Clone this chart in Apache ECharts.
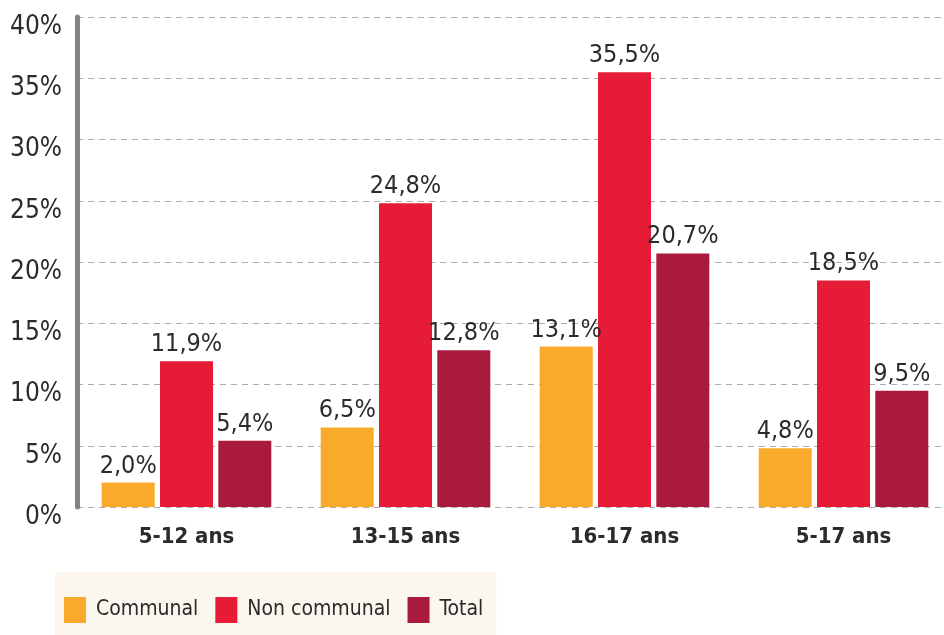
<!DOCTYPE html>
<html>
<head>
<meta charset="utf-8">
<script src="https://cdn.jsdelivr.net/npm/echarts@6/dist/echarts.min.js"></script>
<style>
  html, body { margin: 0; padding: 0; background: #fff; }
  #chart { width: 944px; height: 635px; }
</style>
</head>
<body>
<div id="chart"></div>
<script>
// données
const categories = ["5-12 ans", "13-15 ans", "16-17 ans", "5-17 ans"];
const communal = [2.0, 6.5, 13.1, 4.8];
const nonCommunal = [11.9, 24.8, 35.5, 18.5];
const total = [5.4, 12.8, 20.7, 9.5];
const seriesNames = ["Communal", "Non communal", "Total"];
const colors = ["#F9AA2A", "#E61C36", "#AA1A3C"];

const FONT = "'DejaVu Sans Condensed', 'DejaVu Sans', sans-serif";

const chart = echarts.init(document.getElementById("chart"));

function barSeries(name, data, color) {
  return {
    name: name,
    type: "bar",
    data: data,
    barWidth: 53,
    barGap: "10%",
    itemStyle: { color: color },
    label: {
      show: true,
      position: "top",
      distance: 4,
      color: "#2b2b2b",
      fontFamily: FONT,
      fontSize: 25,
      formatter: (p) => p.value.toFixed(1).replace(".", ",") + "%", // virgule décimale
    },
  };
}

const option = {
  animation: false,
  textStyle: { fontFamily: FONT },
  color: colors,
  grid: {
    left: 77, width: 876, top: 17, bottom: 128,
    containLabel: false,
    outerBoundsMode: "none", // la dernière catégorie dépasse un peu à droite
  },
  legend: {
    data: seriesNames,
    left: 55,
    top: 572,
    backgroundColor: "#FBF6EE",
    padding: [25, 13, 12, 9],
    itemWidth: 22,
    itemHeight: 26,
    itemGap: 17,
    icon: "rect",
    textStyle: {
      fontFamily: FONT,
      fontSize: 21,
      color: "#2b2b2b",
      padding: [0, 0, 0, 5],
    },
  },
  xAxis: {
    type: "category",
    data: categories,
    axisLine: { show: false },
    axisTick: { show: false },
    axisLabel: {
      margin: 19,
      fontFamily: FONT,
      fontWeight: "bold",
      fontSize: 22,
      color: "#2b2b2b",
    },
  },
  yAxis: {
    type: "value",
    min: 0,
    max: 40,
    interval: 5,
    axisLine: { show: true, lineStyle: { color: "#808285", width: 5 } },
    axisTick: { show: false },
    axisLabel: {
      margin: 15,
      fontFamily: FONT,
      fontSize: 26,
      color: "#2b2b2b",
      verticalAlign: "top",
      lineHeight: 20,
      formatter: "{value}%",
    },
    splitLine: { lineStyle: { color: "#ababab", type: [6, 5], width: 1 } },
  },
  series: [
    barSeries(seriesNames[0], communal, colors[0]),
    barSeries(seriesNames[1], nonCommunal, colors[1]),
    barSeries(seriesNames[2], total, colors[2]),
  ],
};

chart.setOption(option);
</script>
</body>
</html>
